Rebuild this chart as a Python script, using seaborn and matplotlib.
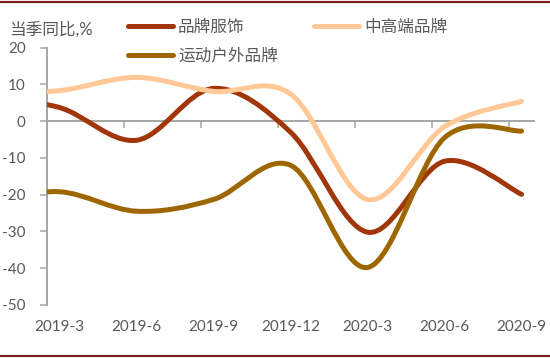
import numpy as np
import pandas as pd
import seaborn as sns
import matplotlib.pyplot as plt
from matplotlib.path import Path
from matplotlib.patches import PathPatch
from matplotlib.lines import Line2D

# 季度 (2018-12 只露出一点，在左边被裁掉)
quarters = ["2018-12", "2019-3", "2019-6", "2019-9", "2019-12", "2020-3", "2020-6", "2020-9"]
brand_apparel = [6.5, 3.7, -5.2, 8.9, -3.0, -30.2, -10.9, -19.9]
high_end = [7.5, 8.3, 11.9, 8.1, 7.4, -21.3, -1.5, 5.4]
sports_outdoor = [-22.0, -19.2, -24.5, -21.3, -12.0, -39.8, -4.5, -2.7]

series_names = ["品牌服饰", "中高端品牌", "运动户外品牌"]
colors = ["#A0360A", "#FFC896", "#9E6600"]
yticks = list(range(-50, 21, 10))

df = pd.DataFrame({
    "pos": np.arange(len(quarters)) - 1,
    "quarter": quarters,
    "品牌服饰": brand_apparel,
    "中高端品牌": high_end,
    "运动户外品牌": sports_outdoor,
}).melt(id_vars=["pos", "quarter"], var_name="series", value_name="value")

sns.set_style("white")
plt.rcParams["font.family"] = ["Lato", "Noto Sans CJK SC", "DejaVu Sans"]
plt.rcParams["axes.unicode_minus"] = False

gray = "#A6A6A6"
text_gray = "#595959"


def smooth_path(xs, ys):
    # excel风格的平滑线: 贝塞尔曲线
    pts = np.column_stack([xs, ys])
    n = len(pts)
    verts = [pts[0]]
    codes = [Path.MOVETO]
    for i in range(n - 1):
        p0 = pts[i - 1] if i > 0 else pts[i]
        p1, p2 = pts[i], pts[i + 1]
        p3 = pts[i + 2] if i + 2 < n else pts[i + 1]
        verts += [p1 + (p2 - p0) / 6, p2 - (p3 - p1) / 6, p2]
        codes += [Path.CURVE4] * 3
    return Path(verts, codes)


fig = plt.figure(figsize=(5.5, 3.58), dpi=100)
ax = fig.add_axes([46.7 / 550, 1 - 305 / 358, 487.7 / 550, 257.4 / 358])

sns.lineplot(data=df, x="pos", y="value", hue="series", hue_order=series_names,
             palette=colors, lw=3.6, ax=ax)

# 把折线换成平滑曲线
for line in list(ax.get_lines()):
    x, y = line.get_data()
    if len(x) == 0:
        continue
    ax.add_patch(PathPatch(smooth_path(np.asarray(x, float), np.asarray(y, float)),
                           facecolor="none", edgecolor=line.get_color(), lw=3.6,
                           capstyle="round", joinstyle="round", zorder=3))
    line.set_visible(False)

ax.set_xlim(-1 / 6, 6 + 1 / 6)
ax.set_ylim(-50, 20)
ax.set_xlabel("")
ax.set_ylabel("")

# x轴标签在底部, 刻度线在0轴上
ax.set_xticks(range(7))
ax.set_xticklabels(quarters[1:])
ax.tick_params(axis="x", length=0, pad=11, labelsize=11, labelcolor=text_gray)
ax.set_yticks(yticks)
ax.tick_params(axis="y", length=5, width=1.1, color=gray, direction="out",
               pad=10, labelsize=11, labelcolor=text_gray, left=True)

for s in ["top", "right", "bottom"]:
    ax.spines[s].set_visible(False)
ax.spines["left"].set_color(gray)
ax.spines["left"].set_linewidth(1.4)

zero_frac = (0 - ax.get_ylim()[0]) / (ax.get_ylim()[1] - ax.get_ylim()[0])
secax = ax.secondary_xaxis(zero_frac)
secax.set_alignment("bottom")
secax.set_xticks([i - 1 / 6 for i in range(7)])
secax.tick_params(axis="x", length=5, width=1.1, color=gray, direction="out",
                  labelbottom=False, labeltop=False)
secax.spines["bottom"].set_color(gray)
secax.spines["bottom"].set_linewidth(1.4)

# 图例
old = ax.get_legend()
handles = {t.get_text(): h for t, h in zip(old.get_texts(), old.legend_handles)}
old.remove()
order = ["品牌服饰", "运动户外品牌", "中高端品牌"]
hs = [Line2D([], [], color=handles[k].get_color(), lw=3.6, solid_capstyle="round") for k in order]
leg = ax.legend(hs, order, loc="upper left", bbox_to_anchor=(128 / 550, 1 - 19 / 358),
                bbox_transform=fig.transFigure, ncol=2, frameon=False, fontsize=12,
                handlelength=2.7, handletextpad=0.3, labelspacing=0.75,
                columnspacing=2.2, borderpad=0, borderaxespad=0)
for t in leg.get_texts():
    t.set_color(text_gray)

fig.text(9 / 550, 1 - 29 / 358, "当季同比,%", fontsize=12, color=text_gray,
         va="center", ha="left")

# 上下的深红色边线
for yy in [1 - 2 / 358, 1 - 355.5 / 358]:
    fig.add_artist(Line2D([0, 1], [yy, yy], transform=fig.transFigure,
                          color="#7F1E1E", lw=1.6))

fig.savefig("out.png", dpi=100)
